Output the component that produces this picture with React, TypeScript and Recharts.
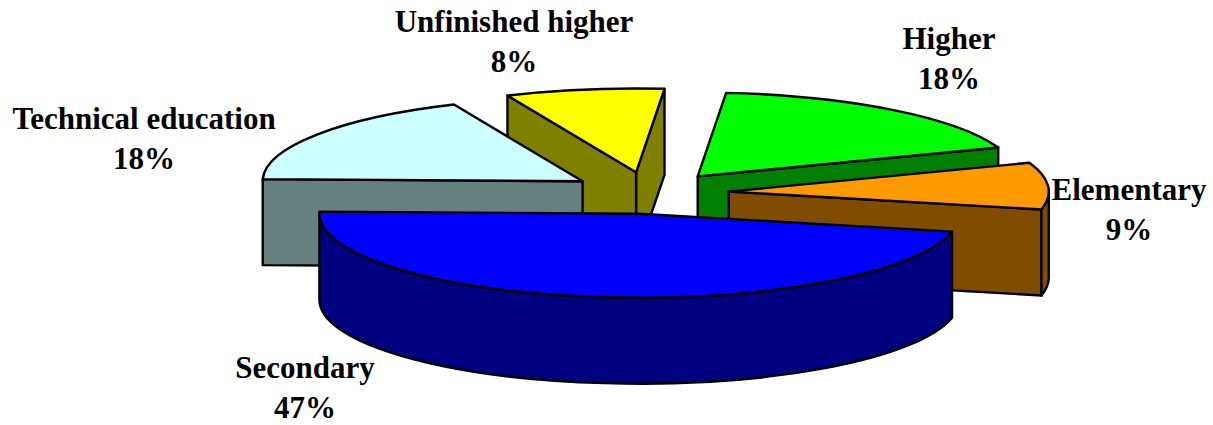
import { PieChart, Pie } from "recharts";

// pie order, counter-clockwise from 9 o'clock
const categories = ["Secondary", "Elementary", "Higher", "Unfinished higher", "Technical education"];
const shares = [47, 9, 18, 8, 18];
const topColors = ["#0000ff", "#ff9900", "#00ff00", "#ffff00", "#ccffff"];
const sideColors = ["#000080", "#804c00", "#008000", "#808000", "#668080"];

// back to front, so the nearer slices cover the ones behind
const paintOrder = ["Unfinished higher", "Higher", "Technical education", "Elementary", "Secondary"];

// label centres, the chart puts them by hand too
const labelSpots: Record<string, [number, number]> = {
  Secondary: [305, 368],
  Elementary: [1129, 190],
  Higher: [949, 39],
  "Unfinished higher": [514, 22],
  "Technical education": [144, 119],
};

const data = categories.map((name, i) => ({
  name,
  value: shares[i],
  fill: topColors[i],
  side: sideColors[i],
}));

const RAD = Math.PI / 180;
const TILT = 0.262;
const DEPTH = 86;
const EXPLODE = 80;

function Slice3D(props: any) {
  const { cx, cy, outerRadius: r, startAngle, endAngle, midAngle, fill, payload, layer } = props;
  if (payload.name !== layer) return null;

  const ax = cx + EXPLODE * Math.cos(midAngle * RAD);
  const ay = cy - EXPLODE * TILT * Math.sin(midAngle * RAD);
  const ry = r * TILT;
  const rim = (a: number, drop = 0) =>
    `${ax + r * Math.cos(a * RAD)} ${ay - ry * Math.sin(a * RAD) + drop}`;
  const apex = (drop = 0) => `${ax} ${ay + drop}`;
  const wall = (a: number) => `M${apex()} L${rim(a)} L${rim(a, DEPTH)} L${apex(DEPTH)} Z`;

  const faces: string[] = [];
  if (Math.sin((startAngle - 90) * RAD) < 0) faces.push(wall(startAngle));
  if (Math.sin((endAngle + 90) * RAD) < 0) faces.push(wall(endAngle));

  // the curved outside only shows on the front half, 180..360 (and 540..720)
  for (const base of [180, 540]) {
    const from = Math.max(startAngle, base);
    const to = Math.min(endAngle, base + 180);
    if (to > from) {
      faces.push(
        `M${rim(from)} A${r} ${ry} 0 0 0 ${rim(to)} L${rim(to, DEPTH)} A${r} ${ry} 0 0 1 ${rim(from, DEPTH)} Z`
      );
    }
  }

  const large = endAngle - startAngle > 180 ? 1 : 0;
  const top = `M${apex()} L${rim(startAngle)} A${r} ${ry} 0 ${large} 0 ${rim(endAngle)} Z`;

  return (
    <g stroke="#000" strokeWidth={2.4} strokeLinejoin="round">
      {faces.map((d, i) => (
        <path key={i} d={d} fill={payload.side} />
      ))}
      <path d={top} fill={fill} />
    </g>
  );
}

function renderLabel(props: any) {
  const [x, y] = labelSpots[props.name];
  return (
    <text
      x={x}
      textAnchor="middle"
      fontFamily="'Liberation Serif', serif"
      fontWeight="bold"
      fontSize={31}
      fill="#000"
    >
      <tspan x={x} y={y + 10}>{props.name}</tspan>
      <tspan x={x} y={y + 50}>{`${Math.round(props.percent * 100)}%`}</tspan>
    </text>
  );
}

export default function App() {
  return (
    <div style={{ position: "absolute", left: 0, top: 0, width: 1213, height: 425, background: "#fff" }}>
      <PieChart width={1213} height={425} margin={{ top: 0, right: 0, bottom: 0, left: 0 }}>
        {paintOrder.map((layer, i) => (
          <Pie
            key={layer}
            data={data}
            dataKey="value"
            nameKey="name"
            cx={649}
            cy={193}
            innerRadius={0}
            outerRadius={320}
            startAngle={178.5}
            endAngle={538.5}
            stroke="none"
            isAnimationActive={false}
            shape={(p: any) => <Slice3D {...p} layer={layer} />}
            label={i === paintOrder.length - 1 ? renderLabel : false}
            labelLine={false}
          />
        ))}
      </PieChart>
    </div>
  );
}
